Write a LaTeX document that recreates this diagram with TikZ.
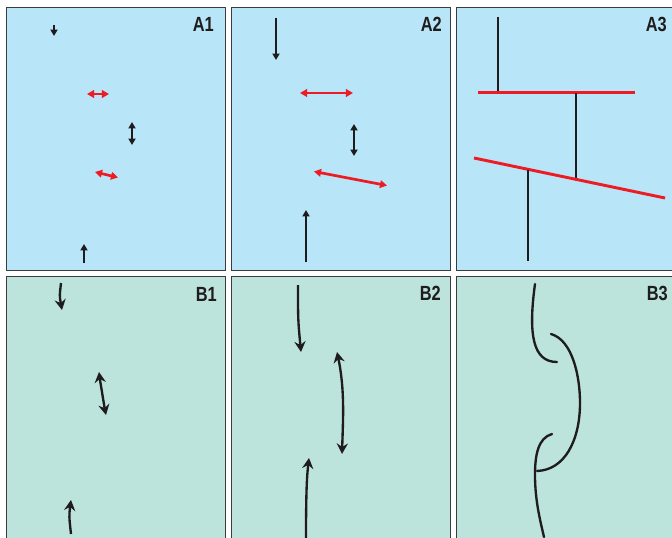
\documentclass[tikz,border=0pt]{standalone}
\usepackage{fontspec}
\newfontfamily\tagfont[FakeStretch=0.8]{Liberation Sans}
\usetikzlibrary{arrows.meta}
\definecolor{skyfill}{RGB}{185,229,248}
\definecolor{mintfill}{RGB}{189,227,221}
\definecolor{framegray}{RGB}{60,60,60}
\definecolor{faultred}{RGB}{237,28,36}
\definecolor{ink}{RGB}{30,28,28}
\tikzset{
  panel/.style={draw=framegray, line width=1.4pt},
  tag/.style={font=\tagfont\bfseries\fontsize{17.5}{17.5}\selectfont, text=ink, anchor=base east, inner sep=0pt},
  push/.style={ink, line width=1.8pt, -{Triangle[length=5.5pt,width=6pt]}},
  pushboth/.style={ink, line width=1.8pt, {Triangle[length=5.5pt,width=6pt]}-{Triangle[length=5.5pt,width=6pt]}},
  slip/.style={faultred, line width=2.3pt, {Triangle[length=6pt,width=6.5pt]}-{Triangle[length=6pt,width=6.5pt]}},
  fault/.style={faultred, line width=2.5pt},
  dyke/.style={ink, line width=2.3pt},
  bent/.style={ink, line width=2pt, -{Stealth[length=9pt,width=9.5pt,inset=3pt]}},
  bentboth/.style={ink, line width=2pt, {Stealth[length=9pt,width=9.5pt,inset=3pt]}-{Stealth[length=9pt,width=9.5pt,inset=3pt]}},
  strand/.style={ink, line width=2pt, line cap=round}
}
\begin{document}
\begin{tikzpicture}[x=0.03cm, y=-0.03cm]
  \useasboundingbox (0,0) rectangle (672,538);
  \clip (0,0) rectangle (672,538);
  % panels
  \draw[panel, fill=skyfill] (6.5,7.5) rectangle (225.5,270.5);
  \draw[panel, fill=skyfill] (231.5,7.5) rectangle (450.5,270.5);
  \draw[panel, fill=skyfill] (456.5,7.5) rectangle (700,270.5);
  \draw[panel, fill=mintfill] (6.5,276.5) rectangle (225.5,560);
  \draw[panel, fill=mintfill] (231.5,276.5) rectangle (450.5,560);
  \draw[panel, fill=mintfill] (456.5,276.5) rectangle (700,560);
  \node[tag] (tagA1) at (214,32) {A1};
  \node[tag] (tagA2) at (442,32) {A2};
  \node[tag] (tagA3) at (667,32) {A3};
  \node[tag] (tagB1) at (217,301) {B1};
  \node[tag] (tagB2) at (441,300) {B2};
  \node[tag] (tagB3) at (668,300) {B3};
  % A1
  \draw[push] (54,25.5) -- (54,36);
  \draw[slip] (87,94) -- (109,94);
  \draw[pushboth] (132,122) -- (132,145);
  \draw[slip] (95,172) -- (118,177.5);
  \draw[push] (84,263) -- (84,244);
  % A2
  \draw[push] (276,18) -- (276,60);
  \draw[slip] (300,93) -- (353,93);
  \draw[pushboth] (354,124) -- (354,156);
  \draw[slip] (314,171.5) -- (387,185.5);
  \draw[push] (306,262) -- (306,210);
  % A3
  \draw[dyke] (498,17) -- (498,92);
  \draw[fault] (478,92.5) -- (635,92.5);
  \draw[dyke] (576,93) -- (576,179);
  \draw[fault] (474,158) -- (665,198);
  \draw[dyke] (528,170) -- (528,261);
  % B1
  \draw[bent] (61,283) .. controls (59.5,296) .. (62,310);
  \draw[bentboth] (99,372) .. controls (101.5,393) .. (106,415);
  \draw[bent] (71,534) .. controls (69,516) .. (71,500);
  % B2
  \draw[bent] (298,285) .. controls (298,320) .. (301,352);
  \draw[bentboth] (337,352) .. controls (345,390) and (343,420) .. (342,454);
  \draw[bent] (306,538) .. controls (306,490) and (307,475) .. (309,458);
  % B3
  \draw[strand] (535,284) .. controls (528,335) and (533,362) .. (557,362);
  \draw[strand] (551,334) .. controls (572,340) and (580,375) .. (580,403)
    .. controls (580,440) and (565,470) .. (537,471);
  \draw[strand] (552,434) .. controls (538,438) and (535,455) .. (535,475)
    .. controls (535,500) and (540,520) .. (544,537);
\end{tikzpicture}
\end{document}
